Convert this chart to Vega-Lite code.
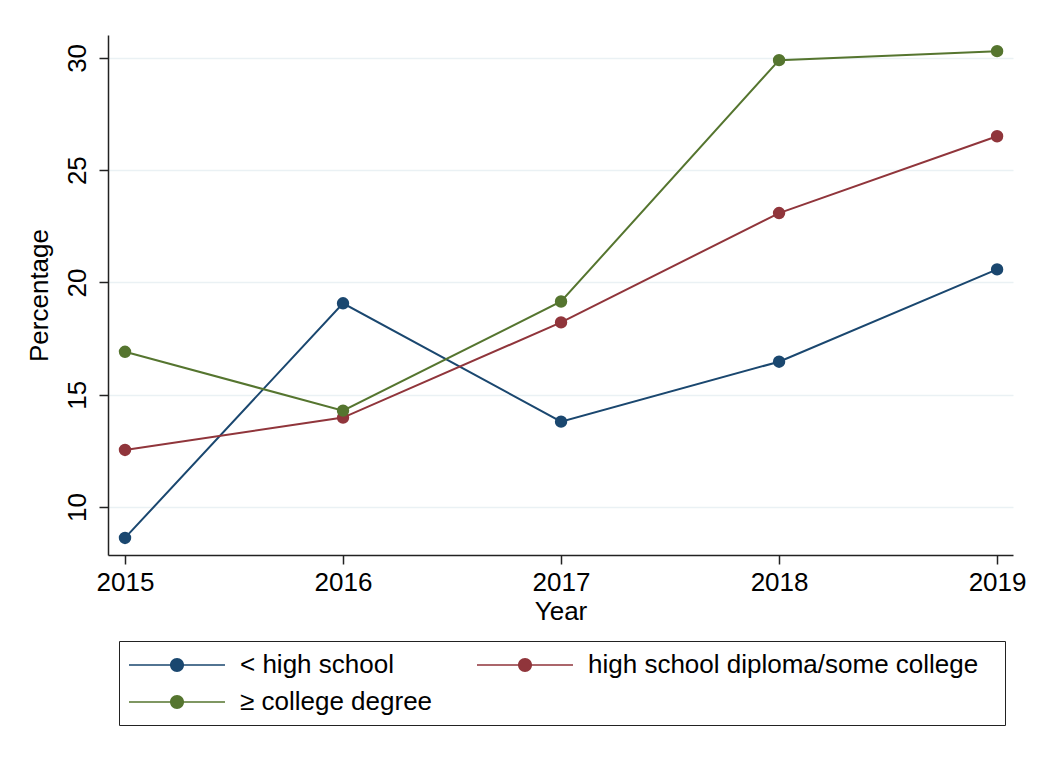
{
  "$schema": "https://vega.github.io/schema/vega-lite/v6.json",
  "width": 905,
  "height": 520,
  "autosize": {"type": "none"},
  "padding": {"left": 108, "top": 35, "right": 37, "bottom": 214},
  "background": "white",
  "config": {
    "view": {"stroke": null},
    "font": "Liberation Sans",
    "axis": {
      "labelFont": "Liberation Sans",
      "titleFont": "Liberation Sans",
      "labelFontSize": 26,
      "titleFontSize": 26,
      "titleFontWeight": "normal",
      "labelColor": "#000",
      "titleColor": "#000",
      "domainColor": "#222",
      "tickColor": "#222",
      "domainWidth": 1.5,
      "tickWidth": 1.5,
      "tickSize": 9,
      "gridColor": "#eaf1f4",
      "gridWidth": 1.5
    }
  },
  "data": {
    "values": [
      {"series": "< high school", "year": 2015, "value": 8.62},
      {"series": "< high school", "year": 2016, "value": 19.07},
      {"series": "< high school", "year": 2017, "value": 13.8},
      {"series": "< high school", "year": 2018, "value": 16.47},
      {"series": "< high school", "year": 2019, "value": 20.58},
      {"series": "high school diploma/some college", "year": 2015, "value": 12.54},
      {"series": "high school diploma/some college", "year": 2016, "value": 13.98},
      {"series": "high school diploma/some college", "year": 2017, "value": 18.22},
      {"series": "high school diploma/some college", "year": 2018, "value": 23.09},
      {"series": "high school diploma/some college", "year": 2019, "value": 26.51},
      {"series": "≥ college degree", "year": 2015, "value": 16.91},
      {"series": "≥ college degree", "year": 2016, "value": 14.29},
      {"series": "≥ college degree", "year": 2017, "value": 19.15},
      {"series": "≥ college degree", "year": 2018, "value": 29.9},
      {"series": "≥ college degree", "year": 2019, "value": 30.3}
    ]
  },
  "encoding": {
    "x": {
      "field": "year",
      "type": "quantitative",
      "title": "Year",
      "scale": {"domain": [2014.922, 2019.073], "nice": false, "zero": false},
      "axis": {"values": [2015, 2016, 2017, 2018, 2019], "format": "d", "grid": false, "labelPadding": 5, "titlePadding": 3, "labelFlush": false}
    },
    "y": {
      "field": "value",
      "type": "quantitative",
      "title": "Percentage",
      "scale": {"domain": [7.86, 31.02], "nice": false, "zero": false},
      "axis": {"values": [10, 15, 20, 25, 30], "grid": true, "labelAngle": 270, "labelAlign": "center", "labelBaseline": "bottom", "labelPadding": 9, "titlePadding": 12, "labelFlush": false}
    },
    "color": {
      "field": "series",
      "type": "nominal",
      "scale": {
        "domain": ["< high school", "high school diploma/some college", "≥ college degree"],
        "range": ["#1a476f", "#90353b", "#55752f"]
      },
      "legend": {
        "title": ".",
        "titleOrient": "right",
        "titleColor": "white",
        "titleFontSize": 26,
        "titlePadding": 9,
        "orient": "none",
        "direction": "horizontal",
        "legendX": 11,
        "legendY": 606,
        "columns": 2,
        "columnPadding": 44,
        "rowPadding": 10,
        "padding": 10,
        "strokeColor": "#222",
        "fillColor": "white",
        "labelFont": "Liberation Sans",
        "labelFontSize": 26,
        "labelColor": "#000",
        "labelOffset": 83,
        "labelLimit": 700,
        "symbolType": "M-1,-0.054H5.857V0.054H-1Z M1.93,0A0.5,0.5,0,1,1,2.93,0A0.5,0.5,0,1,1,1.93,0Z",
        "symbolSize": 784,
        "symbolStrokeWidth": 0,
        "symbolOpacity": 1
      }
    }
  },
  "layer": [
    {"mark": {"type": "line", "strokeWidth": 2}},
    {"mark": {"type": "point", "filled": true, "size": 154, "opacity": 1}}
  ]
}
